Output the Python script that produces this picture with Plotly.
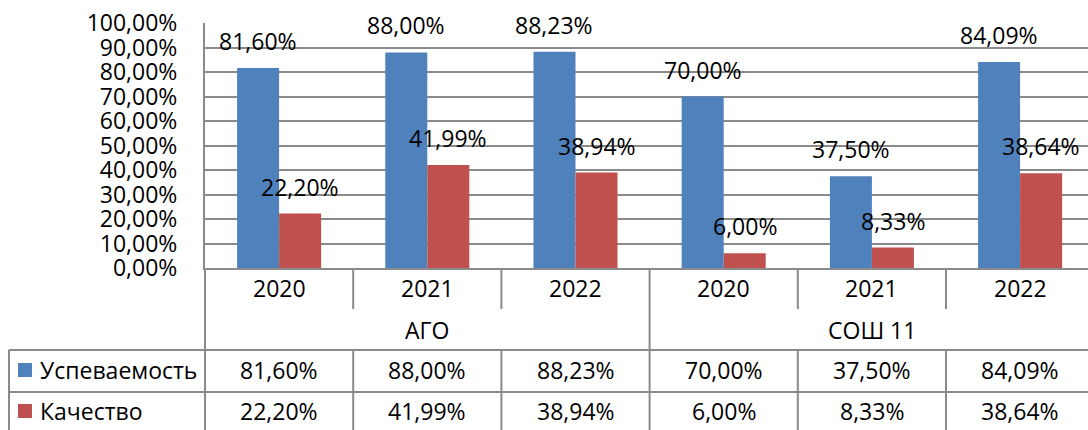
import plotly.graph_objects as go

# ---- data ----
years = ["2020", "2021", "2022", "2020", "2021", "2022"]
groups = ["АГО", "СОШ 11"]
series_names = ["Успеваемость", "Качество"]
uspevaemost = [81.60, 88.00, 88.23, 70.00, 37.50, 84.09]
kachestvo = [22.20, 41.99, 38.94, 6.00, 8.33, 38.64]
y_ticks = [0, 10, 20, 30, 40, 50, 60, 70, 80, 90, 100]

colors = ["#4F81BD", "#C0504D"]
FONT = "Open Sans"
FS = 23
GRID = "#8a8a8a"

# ---- layout geometry (pixels) ----
W, H = 1088, 430
L, T = 205, 23          # plot left, top (100%)
Y0 = 268                # pixel y of 0%
plot_h = Y0 - T
plot_w = W - L
cat_px = 148.2
xmin = -0.5
xmax = xmin + plot_w / cat_px
bargap = 0.433

def px_x(X):   # pixel -> paper x
    return (X - L) / plot_w

def px_y(Y):   # pixel -> paper y
    return (Y0 - Y) / plot_h

def cx(v):     # data x -> paper x
    return (v - xmin) / (xmax - xmin)

def fmt(v):
    return f"{v:.2f}".replace(".", ",") + "%"

xs = list(range(len(years)))
series = [uspevaemost, kachestvo]

fig = go.Figure()
for name, vals, col in zip(series_names, series, colors):
    fig.add_trace(go.Bar(x=xs, y=vals, name=name, marker_color=col,
                         marker_line_width=0, showlegend=False, hoverinfo="skip"))

annotations = []
shapes = []
bw = (1 - bargap) / 2
txt_font = dict(family=FONT, size=FS, color="black")
# data labels above bars
for si, vals in enumerate(series):
    off = (-bw / 2) if si == 0 else (bw / 2)
    for i, v in enumerate(vals):
        annotations.append(dict(x=i + off, y=v, xref="x", yref="y", text=fmt(v),
                                showarrow=False, yanchor="middle", yshift=27,
                                font=txt_font))

line = dict(color=GRID, width=2)
# year row
for i, yr in enumerate(years):
    annotations.append(dict(x=i, y=px_y(288), xref="x", yref="paper", text=yr,
                            showarrow=False, yanchor="middle", font=txt_font))
# group row
for gi, g in enumerate(groups):
    annotations.append(dict(x=gi * 3 + 1, y=px_y(330), xref="x", yref="paper", text=g,
                            showarrow=False, yanchor="middle", font=txt_font))
# data table rows
row_y = [370, 411]
for si, vals in enumerate(series):
    for i, v in enumerate(vals):
        annotations.append(dict(x=i, y=px_y(row_y[si]), xref="x", yref="paper", text=fmt(v),
                                showarrow=False, yanchor="middle", font=txt_font))
    annotations.append(dict(x=px_x(38), y=px_y(row_y[si]), xref="paper", yref="paper",
                            text=series_names[si], showarrow=False, xanchor="left",
                            yanchor="middle", font=txt_font))
    shapes.append(dict(type="rect", xref="paper", yref="paper",
                       x0=px_x(18), x1=px_x(32), y0=px_y(row_y[si] - 7), y1=px_y(row_y[si] + 7),
                       fillcolor=colors[si], line=dict(width=0)))

# table lines
shapes.append(dict(type="line", xref="paper", yref="paper", x0=cx(-0.5), x1=cx(-0.5),
                   y0=0, y1=px_y(H + 5), line=line))
for b in [0.5, 1.5, 2.5, 3.5, 4.5]:
    if b == 2.5:
        shapes.append(dict(type="line", xref="paper", yref="paper", x0=cx(b), x1=cx(b),
                           y0=0, y1=px_y(H + 5), line=line))
    else:
        shapes.append(dict(type="line", xref="paper", yref="paper", x0=cx(b), x1=cx(b),
                           y0=0, y1=px_y(309), line=line))
        shapes.append(dict(type="line", xref="paper", yref="paper", x0=cx(b), x1=cx(b),
                           y0=px_y(350), y1=px_y(H + 5), line=line))
for Y in [350, 392]:
    shapes.append(dict(type="line", xref="paper", yref="paper", x0=px_x(9), x1=1.01,
                       y0=px_y(Y), y1=px_y(Y), line=line))
shapes.append(dict(type="line", xref="paper", yref="paper", x0=px_x(9), x1=px_x(9),
                   y0=px_y(350), y1=px_y(H + 5), line=line))

fig.update_layout(
    width=W, height=H,
    margin=dict(l=L, r=0, t=T, b=H - Y0, pad=0),
    paper_bgcolor="white", plot_bgcolor="white",
    barmode="group", bargap=bargap, bargroupgap=0,
    font=txt_font, hovermode=False,
    annotations=annotations, shapes=shapes,
    xaxis=dict(range=[xmin, xmax], showticklabels=False, showgrid=False, zeroline=False,
               showline=True, linecolor=GRID, linewidth=2, ticks="", fixedrange=True),
    yaxis=dict(range=[0, 100], tickvals=y_ticks, ticktext=[fmt(v) for v in y_ticks],
               showgrid=True, gridcolor=GRID, gridwidth=2, zeroline=False,
               showline=True, linecolor=GRID, linewidth=2, ticks="",
               ticklabelstandoff=21, tickfont=txt_font, fixedrange=True),
)

fig.write_html("out.html", config={"displayModeBar": False, "staticPlot": True},
               post_script="document.body.style.margin='0';document.body.style.overflow='hidden';")
